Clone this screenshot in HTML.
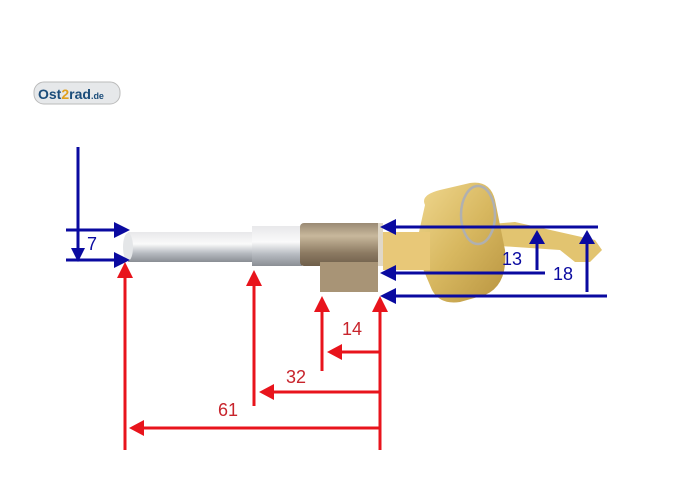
<!DOCTYPE html>
<html><head><style>html,body{margin:0;padding:0;background:#fff;}svg{display:block;}</style></head>
<body>
<svg width="700" height="499" viewBox="0 0 700 499" xmlns="http://www.w3.org/2000/svg" font-family="Liberation Sans, sans-serif">
<defs>
<linearGradient id="pin" x1="0" y1="0" x2="0" y2="1"><stop offset="0" stop-color="#e8e8ea"/><stop offset="0.4" stop-color="#fafafa"/><stop offset="0.7" stop-color="#b8bcc2"/><stop offset="1" stop-color="#8a8e94"/></linearGradient>
<linearGradient id="brass" x1="0" y1="0" x2="0" y2="1"><stop offset="0" stop-color="#9a8a74"/><stop offset="0.3" stop-color="#c8b89c"/><stop offset="0.7" stop-color="#8c7a62"/><stop offset="1" stop-color="#6e5e4a"/></linearGradient>
<linearGradient id="key" x1="0" y1="0" x2="1" y2="1"><stop offset="0" stop-color="#f0d890"/><stop offset="0.5" stop-color="#d8b860"/><stop offset="1" stop-color="#b89440"/></linearGradient>
</defs>
<!-- logo -->
<rect x="34" y="82" width="86" height="22" rx="10" fill="#e6e8ea" stroke="#bbb"/>
<text x="38" y="99" font-size="14" font-weight="bold" fill="#1a4c7a">Ost<tspan fill="#e0a020">2</tspan>rad<tspan font-size="9">.de</tspan></text>
<!-- key blade -->
<path d="M480 225 L515 222 L595 240 L602 250 L590 262 L575 262 L560 250 L485 245 Z" fill="#e2c470"/>
<!-- key head -->
<path d="M425 205 Q420 195 440 190 L470 183 Q490 180 495 200 L505 250 Q508 285 485 295 L460 302 Q440 305 432 290 L415 250 Z" fill="url(#key)"/>
<path d="M383 232 L430 232 L430 270 L383 270 Z" fill="#e8c878"/>
<ellipse cx="478" cy="215" rx="17" ry="29" fill="none" stroke="#b0b0b0" stroke-width="2.5"/>
<!-- pin -->
<rect x="128" y="232" width="124" height="30" fill="url(#pin)"/>
<ellipse cx="128" cy="247" rx="5" ry="14" fill="#e4e6e8"/>
<rect x="252" y="226" width="50" height="40" fill="url(#pin)"/>
<!-- barrel -->
<rect x="300" y="223" width="82" height="43" rx="4" fill="url(#brass)"/>
<rect x="320" y="262" width="58" height="30" fill="#a89476"/>
<rect x="378" y="223" width="5" height="43" fill="#e0d8c8"/>
<!-- blue -->
<g stroke="#0a0aa0" stroke-width="3" fill="#0a0aa0">
<line x1="78" y1="147" x2="78" y2="250"/>
<path d="M71 248 L85 248 L78 262 Z" stroke="none"/>
<line x1="66" y1="230" x2="118" y2="230"/><path d="M114 222 L130 230 L114 238 Z" stroke="none"/>
<line x1="66" y1="260" x2="118" y2="260"/><path d="M114 252 L130 260 L114 268 Z" stroke="none"/>
<line x1="392" y1="227" x2="598" y2="227"/><path d="M396 219 L380 227 L396 235 Z" stroke="none"/>
<line x1="392" y1="273" x2="545" y2="273"/><path d="M396 265 L380 273 L396 281 Z" stroke="none"/>
<line x1="392" y1="296" x2="607" y2="296"/><path d="M396 288 L380 296 L396 304 Z" stroke="none"/>
<line x1="537" y1="270" x2="537" y2="242"/><path d="M529 244 L537 230 L545 244 Z" stroke="none"/>
<line x1="587" y1="292" x2="587" y2="242"/><path d="M579 244 L587 230 L595 244 Z" stroke="none"/>
</g>
<g fill="#0a0aa0" font-size="18"><text x="87" y="250">7</text><text x="502" y="265">13</text><text x="553" y="280">18</text></g>
<!-- red -->
<g stroke="#e8141c" stroke-width="3" fill="#e8141c">
<line x1="125" y1="275" x2="125" y2="450"/><path d="M117 278 L125 262 L133 278 Z" stroke="none"/>
<line x1="254" y1="285" x2="254" y2="406"/><path d="M246 286 L254 270 L262 286 Z" stroke="none"/>
<line x1="322" y1="310" x2="322" y2="371"/><path d="M314 312 L322 296 L330 312 Z" stroke="none"/>
<line x1="380" y1="310" x2="380" y2="450"/><path d="M372 312 L380 296 L388 312 Z" stroke="none"/>
<line x1="338" y1="352" x2="380" y2="352"/><path d="M342 344 L327 352 L342 360 Z" stroke="none"/>
<line x1="270" y1="392" x2="380" y2="392"/><path d="M274 384 L259 392 L274 400 Z" stroke="none"/>
<line x1="140" y1="428" x2="380" y2="428"/><path d="M144 420 L129 428 L144 436 Z" stroke="none"/>
</g>
<g fill="#c8242c" font-size="18"><text x="342" y="335">14</text><text x="286" y="383">32</text><text x="218" y="416">61</text></g>
</svg>
</body></html>
